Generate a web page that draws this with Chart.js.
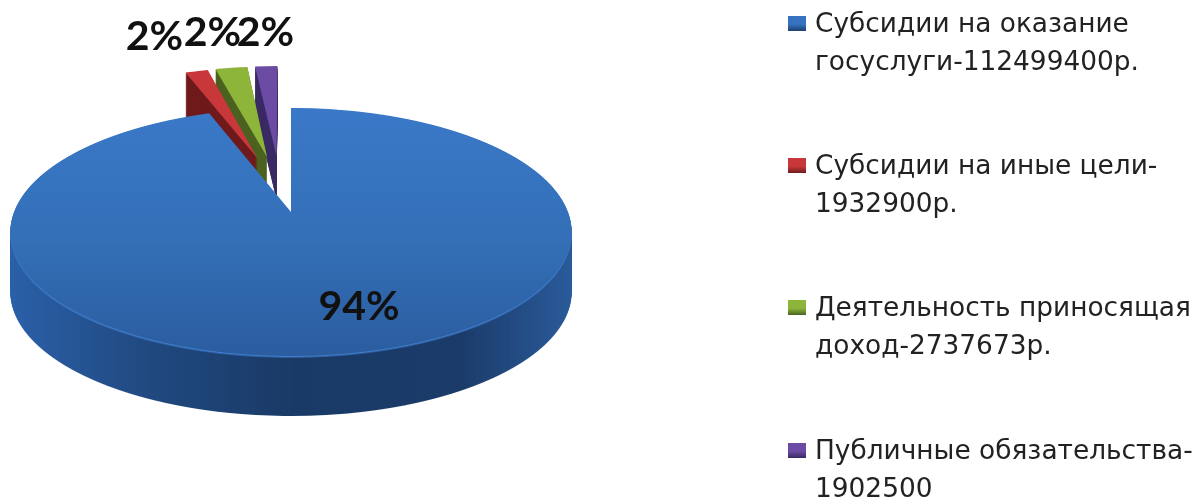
<!DOCTYPE html>
<html><head><meta charset="utf-8">
<style>html,body{margin:0;padding:0;background:#fff}canvas{display:block;filter:blur(.6px)}</style>
<script src="https://cdn.jsdelivr.net/npm/chart.js@4"></script></head>
<body><canvas id="c" width="1198" height="498"></canvas>
<script>
const categories = [
  ["Субсидии на оказание", "госуслуги-112499400р."],
  ["Субсидии на иные цели-", "1932900р."],
  ["Деятельность приносящая", "доход-2737673р."],
  ["Публичные обязательства-", "1902500"]
];
const values = [112499400, 1932900, 2737673, 1902500];
const colors = ["#3573c0", "#c8383b", "#8db53a", "#6b4ba3"];
const sideColors = ["#1d3f6e", "#6f1a1c", "#4c6220", "#3a2a64"];
const percentLabels = ["94%", "2%", "2%", "2%"];
const sliceExplode = [0, 0.5, 0.5, 0.5];

// picture geometry (styling only): perspective pie
const GEO = {cx: 291, y0: 212, A: 120.8, k: 0.161, R: 277, depth: [60, 44, 44, 44], nudge: [0, 4, -2, -8]};
const LABEL_POS = [[359, 320], [154.5, 50], [212.5, 46], [265.5, 46]];
const LEGEND = {markX: 788, textX: 815, y: [32, 174, 316, 459], lh: 38};
const FONT_LEGEND = '26.4px "DejaVu Sans"';
const FONT_LABEL = 'bold 41px Lato';

function layer(W, H){const c=document.createElement('canvas');c.width=W;c.height=H;return c;}
function projectArc(arc, W, H, explode){
  const out = layer(W, H), o = out.getContext('2d'), r = arc.outerRadius;
  const mid = arc.startAngle + arc.circumference / 2;
  const dx = Math.cos(mid) * explode * r, dy = Math.sin(mid) * explode * r;
  const toY = yp => {const v = GEO.y0 - yp; return v / (GEO.A - GEO.k * v);};
  for (let y = 30; y < 370; y++){
    const Y1 = toY(y), Y2 = toY(y + 1), Ym = (Y1 + Y2) / 2;
    const s = 1 / (1 + GEO.k * Ym);
    const py1 = arc.y - Y1 * r, py2 = arc.y - Y2 * r;
    const d = 1 / (py2 - py1), sx = GEO.R / r * s;
    o.save();
    o.beginPath(); o.rect(0, y, W, 1); o.clip();
    o.setTransform(sx, 0, 0, d, GEO.cx - arc.x * sx, y - py1 * d);
    o.translate(dx, dy);
    arc.draw(o);
    o.restore();
  }
  return out;
}
function tint(src, paint){
  const c = layer(src.width, src.height), x = c.getContext('2d');
  x.drawImage(src, 0, 0);
  x.globalCompositeOperation = 'source-in';
  x.fillStyle = paint(x);
  x.fillRect(0, 0, c.width, c.height);
  return c;
}
function grad(x, x0, y0, x1, y1, stops){
  const g = x.createLinearGradient(x0, y0, x1, y1);
  stops.forEach(s => g.addColorStop(s[0], s[1]));
  return g;
}
const pie3d = {
  id: 'pie3d',
  beforeDatasetsDraw(chart){
    const ctx = chart.ctx, W = chart.width, H = chart.height;
    const arcs = chart.getDatasetMeta(0).data;
    [3, 2, 1, 0].forEach(i => {
      const top = projectArc(arcs[i], W, H, sliceExplode[i]);
      let side, face = top, rim = null;
      if (i === 0){
        side = tint(top, x => grad(x, 12, 0, 574, 0, [[0, '#2b60a8'], [.25, '#20497f'], [.5, '#1a3a66'], [.8, '#1b3c6a'], [1, '#2b5c9c']]));
        face = tint(top, x => grad(x, 0, 108, 0, 356, [[0, '#3a79c8'], [.5, '#3470b8'], [1, '#2b5d9f']]));
        rim = tint(top, () => '#3f7ccb');
      } else {
        side = tint(top, () => sideColors[i]);
      }
      const nx = GEO.nudge[i];
      for (let t = GEO.depth[i]; t >= 1; t--) ctx.drawImage(side, nx, t);
      if (rim) ctx.drawImage(rim, 0, 1.5);
      ctx.drawImage(face, nx, 0);
    });
    return false;
  },
  afterDraw(chart){
    const ctx = chart.ctx;
    ctx.save();
    ctx.textBaseline = 'alphabetic';
    ctx.fillStyle = '#111';
    ctx.font = FONT_LABEL;
    ctx.textAlign = 'center';
    percentLabels.forEach((t, i) => ctx.fillText(t, LABEL_POS[i][0], LABEL_POS[i][1]));
    ctx.textAlign = 'left';
    ctx.font = FONT_LEGEND;
    categories.forEach((lines, i) => {
      const by = LEGEND.y[i];
      ctx.fillStyle = grad(ctx, 0, by - 16, 0, by - 1, [[0, colors[i]], [.55, colors[i]], [1, sideColors[i]]]);
      ctx.fillRect(LEGEND.markX, by - 16, 18, 15);
      ctx.fillStyle = '#222';
      lines.forEach((l, j) => ctx.fillText(l, LEGEND.textX, by + j * LEGEND.lh));
    });
    ctx.restore();
  }
};
new Chart(document.getElementById('c'), {
  type: 'pie',
  data: {labels: categories.map(l => l.join(' ')), datasets: [{data: values, backgroundColor: colors, borderWidth: 0}]},
  options: {responsive: false, animation: false, layout: {padding: 0},
    plugins: {legend: {display: false}, tooltip: {enabled: false}}},
  plugins: [pie3d]
});
</script></body></html>
